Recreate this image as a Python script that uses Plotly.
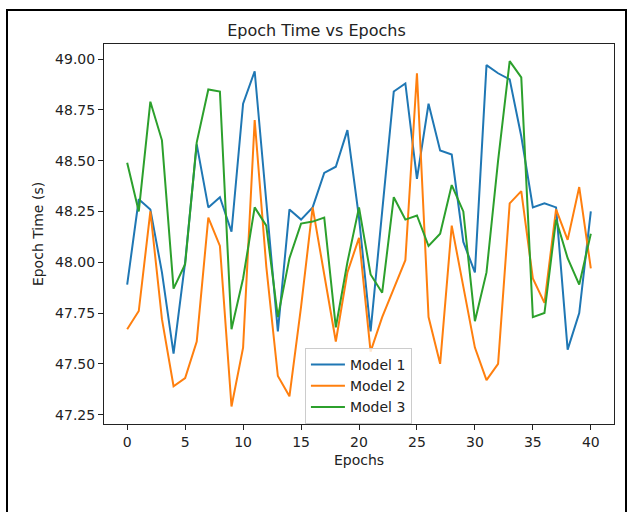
import plotly.graph_objects as go

epochs = list(range(41))
model1 = [47.89, 48.31, 48.26, 47.95, 47.55, 48.00, 48.58, 48.27, 48.32, 48.15,
          48.78, 48.94, 48.30, 47.66, 48.26, 48.21, 48.27, 48.44, 48.47, 48.65,
          48.22, 47.66, 48.25, 48.84, 48.88, 48.41, 48.78, 48.55, 48.53, 48.10,
          47.95, 48.97, 48.93, 48.90, 48.62, 48.27, 48.29, 48.27, 47.57, 47.75,
          48.25]
model2 = [47.67, 47.76, 48.25, 47.72, 47.39, 47.43, 47.61, 48.22, 48.08, 47.29,
          47.58, 48.70, 47.98, 47.44, 47.34, 47.78, 48.27, 47.93, 47.61, 47.95,
          48.12, 47.56, 47.73, 47.87, 48.01, 48.93, 47.73, 47.50, 48.18, 47.88,
          47.58, 47.42, 47.50, 48.29, 48.35, 47.92, 47.80, 48.26, 48.11, 48.37,
          47.97]
model3 = [48.49, 48.25, 48.79, 48.60, 47.87, 47.99, 48.59, 48.85, 48.84, 47.67,
          47.92, 48.27, 48.18, 47.73, 48.02, 48.19, 48.20, 48.22, 47.68, 48.00,
          48.27, 47.94, 47.85, 48.32, 48.21, 48.23, 48.08, 48.14, 48.38, 48.25,
          47.71, 47.95, 48.50, 48.99, 48.91, 47.73, 47.75, 48.21, 48.02, 47.89,
          48.14]
series_names = ["Model 1", "Model 2", "Model 3"]
colors = ["#1f77b4", "#ff7f0e", "#2ca02c"]
x_ticks = [0, 5, 10, 15, 20, 25, 30, 35, 40]
y_ticks = [47.25, 47.50, 47.75, 48.00, 48.25, 48.50, 48.75, 49.00]

fig = go.Figure()
for name, vals, c in zip(series_names, [model1, model2, model3], colors):
    fig.add_trace(go.Scatter(x=epochs, y=vals, mode="lines", name=name,
                             line=dict(color=c, width=2)))

font = "DejaVu Sans, sans-serif"
axis_common = dict(showline=True, linecolor="#222", linewidth=1, mirror=True,
                   ticks="outside", ticklen=5, tickcolor="#222", showgrid=False,
                   zeroline=False, tickfont=dict(family=font, size=14, color="#222"))

fig.update_layout(
    width=633, height=512,
    margin=dict(l=104, r=19, t=44, b=88),
    paper_bgcolor="white", plot_bgcolor="white",
    title=dict(text="Epoch Time vs Epochs", x=0.5, xanchor="center",
               y=1 - 30 / 512, yanchor="middle",
               font=dict(family=font, size=16, color="#222")),
    xaxis=dict(range=[-2, 42], tickvals=x_ticks, ticktext=[str(v) for v in x_ticks],
               title=dict(text="Epochs", font=dict(family=font, size=14, color="#222"), standoff=6),
               **axis_common),
    yaxis=dict(range=[47.204, 49.074], tickvals=y_ticks,
               ticktext=[f"{v:.2f}" for v in y_ticks],
               title=dict(text="Epoch Time (s)", font=dict(family=font, size=14, color="#222"), standoff=8),
               **axis_common),
    legend=dict(x=0.394, y=0.2, xanchor="left", yanchor="top",
                bgcolor="rgba(255,255,255,0.8)", bordercolor="#cccccc", borderwidth=1,
                font=dict(family=font, size=14, color="#222"), tracegroupgap=0,
                itemwidth=34),
    showlegend=True,
    shapes=[dict(type="rect", xref="paper", yref="paper",
                 x0=(7 - 104) / 510, x1=(626 - 104) / 510,
                 y0=(424 - 530) / 380, y1=(424 - 10) / 380,
                 line=dict(color="black", width=2), fillcolor="rgba(0,0,0,0)",
                 layer="below")],
)

fig.write_html("out.html", config={"displayModeBar": False, "staticPlot": True})

with open("out.html", "r", encoding="utf-8") as f:
    html = f.read()
html = html.replace("<head>", "<head><style>html,body{margin:0;padding:0;overflow:hidden;}</style>", 1)
with open("out.html", "w", encoding="utf-8") as f:
    f.write(html)
